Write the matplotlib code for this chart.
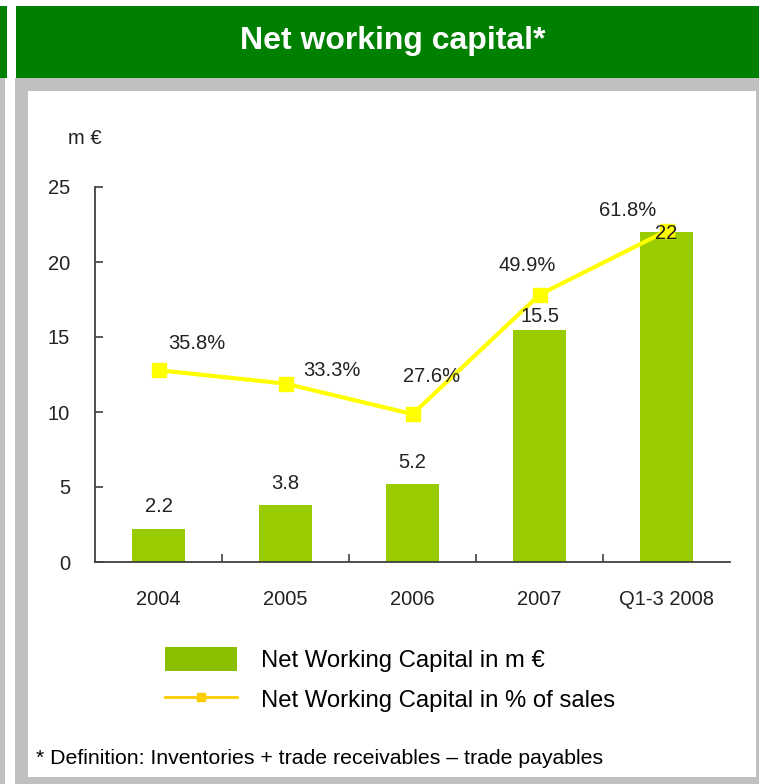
import matplotlib
matplotlib.use("Agg")
import matplotlib.pyplot as plt
from matplotlib.patches import Rectangle, Patch
from matplotlib.lines import Line2D

plt.rcParams['font.family'] = ['Liberation Sans', 'DejaVu Sans']

categories = ["2004", "2005", "2006", "2007", "Q1-3 2008"]
nwc_values = [2.2, 3.8, 5.2, 15.5, 22]
nwc_labels = ["2.2", "3.8", "5.2", "15.5", "22"]
pct_values = [35.8, 33.3, 27.6, 49.9, 61.8]
pct_labels = ["35.8%", "33.3%", "27.6%", "49.9%", "61.8%"]
y_ticks = [0, 5, 10, 15, 20, 25]

# label offsets in pixels (style)
pct_offsets = [(38, 27), (46, 13), (19, 38), (-12, 29), (-39, 20)]
bar_offsets = [(0, 22), (0, 22), (0, 22), (0, 13), (0, -1)]

W, H = 759, 784
fig = plt.figure(figsize=(W / 100, H / 100), dpi=100)
fig.patch.set_facecolor('white')

def rect(x0, y0, x1, y1, color):
    fig.add_artist(Rectangle((x0 / W, 1 - y1 / H), (x1 - x0) / W, (y1 - y0) / H,
                             transform=fig.transFigure, facecolor=color,
                             edgecolor='none', zorder=0))

GRAY = '#C0C0C0'
HGREEN = '#008000'
rect(0, 78, 5, 784, GRAY)
rect(0, 6, 7, 78, HGREEN)
rect(15, 78, 759, 784, GRAY)
rect(16, 6, 759, 78, HGREEN)
rect(28, 91, 756, 777, 'white')

fig.text(393 / W, 1 - 41 / H, "Net working capital*", color='white',
         fontsize=23, fontweight='bold', ha='center', va='center')

TXT = '#222222'
FS = 14.5

ax = fig.add_axes([95 / W, 1 - 562 / H, 635 / W, 375 / H])
ax.set_facecolor('none')
x = list(range(len(categories)))
bars = ax.bar(x, nwc_values, width=0.42, color='#99CC00', zorder=2,
              label="Net Working Capital in m €")
ax.set_xlim(-0.5, len(categories) - 0.5)
ax.set_ylim(0, 25)
for s in ['top', 'right']:
    ax.spines[s].set_visible(False)
for s in ['left', 'bottom']:
    ax.spines[s].set_color('#404040')
    ax.spines[s].set_linewidth(1.3)
ax.set_yticks(y_ticks)
ax.set_yticklabels([str(t) for t in y_ticks])
ax.tick_params(axis='y', direction='in', length=6, width=1.2, color='#404040',
               labelsize=FS, labelcolor=TXT, pad=18)
ax.set_xticks(x)
ax.set_xticklabels(categories)
ax.tick_params(axis='x', which='major', length=0, labelsize=FS, labelcolor=TXT, pad=20)
ax.set_xticks([i + 0.5 for i in x[:-1]], minor=True)
ax.tick_params(axis='x', which='minor', direction='in', length=6, width=1.2, color='#404040')

ax2 = ax.twinx()
ax2.set_ylim(0, 70)
ax2.axis('off')
ax2.plot(x, pct_values, color='#FFFF00', lw=3, marker='s', ms=10,
         markeredgecolor='#FFFF00', zorder=3)

for i, (v, lab) in enumerate(zip(pct_values, pct_labels)):
    ax2.annotate(lab, xy=(i, v), xytext=pct_offsets[i], textcoords='offset pixels',
                 ha='center', va='center', fontsize=FS, color=TXT)
for i, (v, lab) in enumerate(zip(nwc_values, nwc_labels)):
    ax2.annotate(lab, xy=(i, v), xycoords=ax.transData, xytext=bar_offsets[i],
                 textcoords='offset pixels', ha='center', va='center',
                 fontsize=FS, color=TXT, zorder=5)

fig.text(85 / W, 1 - 139 / H, "m €", fontsize=FS, color=TXT, ha='center', va='center')

LFS = 17.2
handles = [Patch(facecolor='#8CBE00', edgecolor='none'),
           Line2D([], [], color='#FFCC00', lw=2, marker='s', ms=6)]
labels = ["Net Working Capital in m €", "Net Working Capital in % of sales"]
fig.legend(handles, labels, loc='upper left', bbox_to_anchor=(165 / W, 1 - 647 / H),
           frameon=False, fontsize=LFS, handlelength=3.0, handleheight=1.15,
           handletextpad=1.0, labelspacing=0.62, borderpad=0, borderaxespad=0,
           labelcolor='black')

fig.text(36 / W, 1 - 758 / H, "* Definition: Inventories + trade receivables – trade payables",
         fontsize=15.3, color='black', ha='left', va='center')

fig.savefig("out.png", dpi=100)
